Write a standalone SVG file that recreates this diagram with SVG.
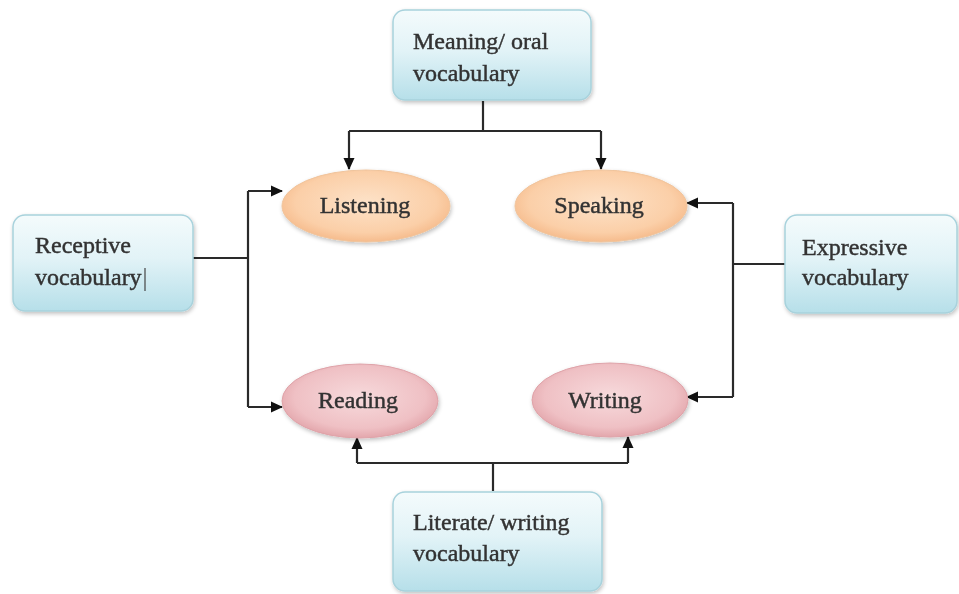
<svg xmlns="http://www.w3.org/2000/svg" width="959" height="594" viewBox="0 0 959 594">
<style>
.box{fill:url(#gBox);stroke:#a8d2dc;stroke-width:1.5}
.txt{font-family:"Liberation Serif","Times New Roman",serif;font-size:24px;fill:#333;stroke:#333;stroke-width:0.45}
.ctr{text-anchor:middle}
.conn{fill:none;stroke:#2a2a2a;stroke-width:2.2}
.or{fill:url(#gOr);stroke:#f0c49c;stroke-width:1}
.pk{fill:url(#gPk);stroke:#dfa3a9;stroke-width:1}
</style>
<defs>
<linearGradient id="gBox" x1="0" y1="0" x2="0" y2="1">
<stop offset="0" stop-color="#f4fbfc"/>
<stop offset="0.45" stop-color="#e2f3f7"/>
<stop offset="1" stop-color="#b6dfe9"/>
</linearGradient>
<radialGradient id="gOr" cx="0.5" cy="0.45" r="0.6">
<stop offset="0" stop-color="#fde2c8"/>
<stop offset="0.7" stop-color="#fbcfa8"/>
<stop offset="1" stop-color="#f4b482"/>
</radialGradient>
<radialGradient id="gPk" cx="0.5" cy="0.45" r="0.6">
<stop offset="0" stop-color="#f7dadc"/>
<stop offset="0.7" stop-color="#efc0c4"/>
<stop offset="1" stop-color="#de9ca2"/>
</radialGradient>
<filter id="sh" x="-10%" y="-10%" width="130%" height="140%">
<feGaussianBlur in="SourceAlpha" stdDeviation="2"/>
<feOffset dx="1" dy="2" result="b"/>
<feComponentTransfer><feFuncA type="linear" slope="0.25"/></feComponentTransfer>
<feMerge><feMergeNode/><feMergeNode in="SourceGraphic"/></feMerge>
</filter>
<marker id="arr" markerWidth="12" markerHeight="12" refX="11" refY="6" orient="auto" markerUnits="userSpaceOnUse">
<path d="M0,0.5 L12,6 L0,11.5 Z" fill="#111"/>
</marker>
</defs>
<rect width="959" height="594" fill="#fff"/>

<g id="connectors">
<path class="conn" d="M483,101 V131"/>
<path class="conn" d="M349,131 H601"/>
<path class="conn" d="M349,131 V169" marker-end="url(#arr)"/>
<path class="conn" d="M601,131 V169" marker-end="url(#arr)"/>
<path class="conn" d="M193,258 H248"/>
<path class="conn" d="M248,191 V407"/>
<path class="conn" d="M248,191 H282" marker-end="url(#arr)"/>
<path class="conn" d="M248,407 H282" marker-end="url(#arr)"/>
<path class="conn" d="M785,264 H733"/>
<path class="conn" d="M733,203 V397"/>
<path class="conn" d="M733,203 H687" marker-end="url(#arr)"/>
<path class="conn" d="M733,397 H687" marker-end="url(#arr)"/>
<path class="conn" d="M493,491 V463"/>
<path class="conn" d="M357,463 H628"/>
<path class="conn" d="M357,463 V438" marker-end="url(#arr)"/>
<path class="conn" d="M628,463 V437" marker-end="url(#arr)"/>
</g>

<g id="meaning" filter="url(#sh)">
<rect class="box" x="393" y="10" width="198" height="90" rx="12"/>
<text class="txt" x="413" y="49">Meaning/ oral</text>
<text class="txt" x="413" y="81">vocabulary</text>
</g>

<g id="receptive" filter="url(#sh)">
<rect class="box" x="13" y="215" width="180" height="96" rx="12"/>
<text class="txt" x="35" y="253">Receptive</text>
<text class="txt" x="35" y="285">vocabulary</text>
<line x1="145" y1="268" x2="145" y2="291" stroke="#444" stroke-width="1.2"/>
</g>

<g id="expressive" filter="url(#sh)">
<rect class="box" x="785" y="215" width="172" height="98" rx="12"/>
<text class="txt" x="802" y="255">Expressive</text>
<text class="txt" x="802" y="285">vocabulary</text>
</g>

<g id="literate" filter="url(#sh)">
<rect class="box" x="393" y="492" width="209" height="99" rx="12"/>
<text class="txt" x="413" y="530">Literate/ writing</text>
<text class="txt" x="413" y="561">vocabulary</text>
</g>

<g id="listening" filter="url(#sh)">
<ellipse class="or" cx="366" cy="206" rx="84" ry="36"/>
<text class="txt ctr" x="365" y="213">Listening</text>
</g>

<g id="speaking" filter="url(#sh)">
<ellipse class="or" cx="601" cy="206" rx="86" ry="36"/>
<text class="txt ctr" x="599" y="213">Speaking</text>
</g>

<g id="reading" filter="url(#sh)">
<ellipse class="pk" cx="360" cy="401" rx="78" ry="37"/>
<text class="txt ctr" x="358" y="408">Reading</text>
</g>

<g id="writing" filter="url(#sh)">
<ellipse class="pk" cx="610" cy="400" rx="78" ry="37"/>
<text class="txt ctr" x="605" y="408">Writing</text>
</g>
</svg>
